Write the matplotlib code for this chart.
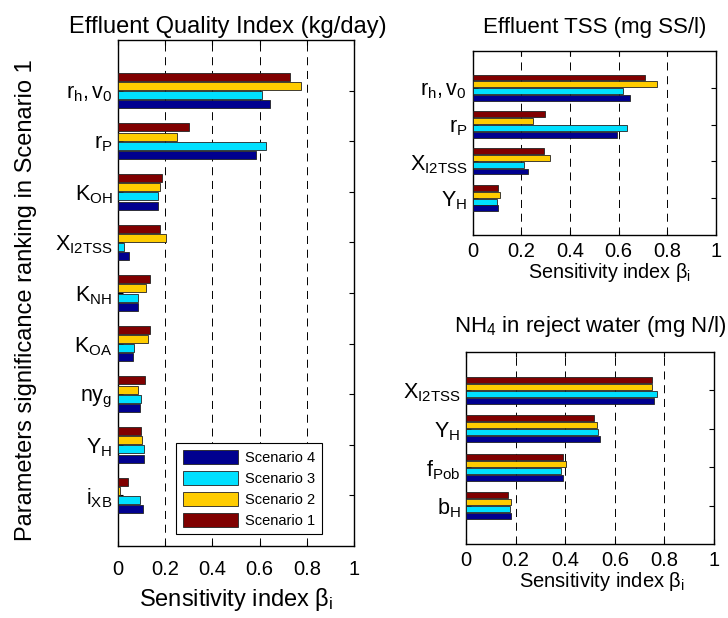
import matplotlib
matplotlib.use('Agg')
import matplotlib.pyplot as plt
from matplotlib.patches import Patch
import numpy as np

plt.rcParams['font.family'] = ['Liberation Sans', 'DejaVu Sans']
plt.rcParams['mathtext.fontset'] = 'custom'
plt.rcParams['mathtext.rm'] = 'Liberation Sans'
plt.rcParams['mathtext.it'] = 'Liberation Sans:italic'
plt.rcParams['mathtext.bf'] = 'Liberation Sans:bold'
plt.rcParams['lines.scale_dashes'] = False

# ---------------- data ----------------
scenarios = ['Scenario 1', 'Scenario 2', 'Scenario 3', 'Scenario 4']
colors = ['#800000', '#FFCC00', '#00E0FF', '#00008F']

# Effluent Quality Index (top to bottom)
eqi_params = [r'$\mathregular{r_h,v_0}$', r'$\mathregular{r_P}$', r'$\mathregular{K_{OH}}$',
              r'$\mathregular{X_{I2TSS}}$', r'$\mathregular{K_{NH}}$', r'$\mathregular{K_{OA}}$',
              r'$\mathregular{ny_g}$', r'$\mathregular{Y_H}$', r'$\mathregular{i_{XB}}$']
eqi_s1 = [0.727, 0.301, 0.187, 0.176, 0.137, 0.137, 0.114, 0.097, 0.044]
eqi_s2 = [0.776, 0.249, 0.177, 0.204, 0.120, 0.127, 0.086, 0.103, 0.007]
eqi_s3 = [0.608, 0.625, 0.170, 0.025, 0.086, 0.069, 0.097, 0.110, 0.093]
eqi_s4 = [0.642, 0.586, 0.170, 0.048, 0.086, 0.065, 0.093, 0.111, 0.104]

# Effluent TSS
tss_params = [r'$\mathregular{r_h,v_0}$', r'$\mathregular{r_P}$',
              r'$\mathregular{X_{I2TSS}}$', r'$\mathregular{Y_H}$']
tss_s1 = [0.710, 0.299, 0.294, 0.103]
tss_s2 = [0.757, 0.247, 0.317, 0.113]
tss_s3 = [0.619, 0.633, 0.210, 0.098]
tss_s4 = [0.648, 0.592, 0.229, 0.103]

# NH4 in reject water
nh4_params = [r'$\mathregular{X_{I2TSS}}$', r'$\mathregular{Y_H}$',
              r'$\mathregular{f_{Pob}}$', r'$\mathregular{b_H}$']
nh4_s1 = [0.751, 0.515, 0.390, 0.168]
nh4_s2 = [0.750, 0.528, 0.405, 0.183]
nh4_s3 = [0.770, 0.532, 0.385, 0.176]
nh4_s4 = [0.760, 0.540, 0.390, 0.183]

xticks = [0, 0.2, 0.4, 0.6, 0.8, 1]
xticklabels = ['0', '0.2', '0.4', '0.6', '0.8', '1']

xlabel = r'Sensitivity index β$_\mathregular{i}$'

fig = plt.figure(figsize=(7.28, 6.18), dpi=100)

ax1 = fig.add_axes([0.1621, 0.1165, 0.3242, 0.8188])
ax2 = fig.add_axes([0.6493, 0.6193, 0.3342, 0.2987])
ax3 = fig.add_axes([0.6401, 0.1197, 0.3407, 0.3112])

slot = 0.182
bh = 0.16


def draw(ax, params, series):
    n = len(params)
    pos = np.arange(n, 0, -1)  # top to bottom
    # within group from top: Scenario 1, 2, 3, 4
    for k, (vals, col) in enumerate(zip(series, colors)):
        off = (1.5 - k) * slot
        ax.barh(pos + off, vals, height=bh, color=col, edgecolor='#222222',
                linewidth=0.6, zorder=3)
    ax.set_ylim(0, n + 1)
    ax.set_xlim(0, 1)
    ax.set_yticks(pos)
    ax.set_yticklabels(params, fontsize=15.5)
    ax.set_xticks(xticks)
    ax.set_xticklabels(xticklabels, fontsize=14.5)
    ax.xaxis.grid(True, linestyle=(0, (5.8, 4.1)), color='black', linewidth=0.7, zorder=1)
    ax.set_axisbelow(True)
    ax.tick_params(axis='both', direction='in', length=3.6, width=0.8,
                   top=True, right=True)
    ax.tick_params(axis='y', pad=4)
    for sp in ax.spines.values():
        sp.set_linewidth(1.0)


draw(ax1, eqi_params, [eqi_s1, eqi_s2, eqi_s3, eqi_s4])
draw(ax2, tss_params, [tss_s1, tss_s2, tss_s3, tss_s4])
draw(ax3, nh4_params, [nh4_s1, nh4_s2, nh4_s3, nh4_s4])

ax1.tick_params(axis='x', pad=10)
ax2.tick_params(axis='x', pad=5)
ax3.tick_params(axis='x', pad=5)

ax1.set_title('Effluent Quality Index (kg/day)', fontsize=17, pad=5, x=0.465)
ax2.set_title('Effluent TSS (mg SS/l)', fontsize=16, pad=13)
ax3.set_title(r'NH$_\mathregular{4}$ in reject water (mg N/l)', fontsize=16, pad=14)

ax1.set_xlabel(xlabel, fontsize=17, labelpad=5)
ax2.set_xlabel(xlabel, fontsize=14.2, labelpad=0, x=0.56)
ax3.set_xlabel(xlabel, fontsize=14.5, labelpad=0, x=0.55)

ax1.set_ylabel('Parameters significance ranking in Scenario 1', fontsize=17)
ax1.yaxis.set_label_coords(-0.345, 0.485)

handles = [Patch(facecolor=colors[3], edgecolor='#222222', linewidth=0.6),
           Patch(facecolor=colors[2], edgecolor='#222222', linewidth=0.6),
           Patch(facecolor=colors[1], edgecolor='#222222', linewidth=0.6),
           Patch(facecolor=colors[0], edgecolor='#222222', linewidth=0.6)]
leg = ax1.legend(handles, [scenarios[3], scenarios[2], scenarios[1], scenarios[0]],
                 loc='lower right', bbox_to_anchor=(0.864, 0.023), fontsize=10.5,
                 handlelength=3.8, handleheight=1.1, handletextpad=0.5,
                 labelspacing=0.42, borderpad=0.45, borderaxespad=0,
                 fancybox=False, framealpha=1, edgecolor='black')
leg.get_frame().set_linewidth(0.8)
leg.set_zorder(5)

fig.savefig('out.png', dpi=100)
